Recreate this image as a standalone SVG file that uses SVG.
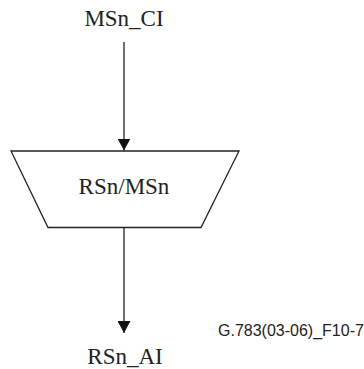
<svg xmlns="http://www.w3.org/2000/svg" width="364" height="369" viewBox="0 0 364 369">
<style>
.t{font-family:"Liberation Serif","Times New Roman",serif;font-size:23px;fill:#222;text-anchor:middle}
.s{font-family:"Liberation Sans",Arial,sans-serif;font-size:16px;fill:#222}
.l{stroke:#222;stroke-width:1.3;fill:none}
</style>
<defs>
<marker id="ah" markerWidth="12" markerHeight="13" refX="12" refY="6.5" orient="auto" markerUnits="userSpaceOnUse" viewBox="0 0 12 13">
<path d="M0,0 L12,6.5 L0,13 Z" fill="#111"/>
</marker>
</defs>
<rect width="364" height="369" fill="#fff"/>
<g id="connectors">
<line class="l" x1="124" y1="42" x2="124" y2="150.5" marker-end="url(#ah)"/>
<line class="l" x1="124" y1="227.5" x2="124" y2="333" marker-end="url(#ah)"/>
</g>
<g id="node-in">
<text class="t" x="124" y="26">MSn_CI</text>
</g>
<g id="node-adapt">
<polygon class="l" points="11,151 239,151 201,227.5 48,227.5"/>
<text class="t" x="124" y="194">RSn/MSn</text>
</g>
<g id="node-out">
<text class="t" x="125" y="364">RSn_AI</text>
</g>
<text class="s" x="218" y="336">G.783(03-06)_F10-7</text>
</svg>
